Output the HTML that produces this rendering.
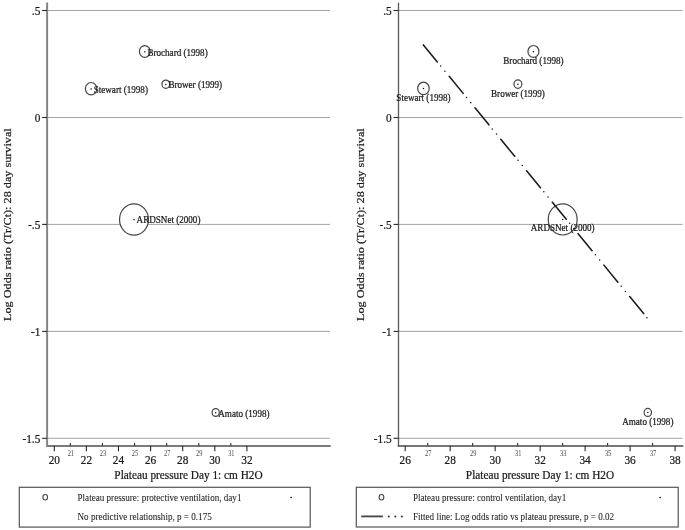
<!DOCTYPE html><html><head><meta charset="utf-8"><style>html,body{margin:0;padding:0;background:#fff;}body{width:685px;height:530px;overflow:hidden;position:relative;}</style></head><body><svg width="685" height="530" viewBox="0 0 685 530" style="position:absolute;left:0;top:0;filter:blur(0px)" font-family='"Liberation Serif", serif'>
<rect width="685" height="530" fill="#fff"/>
<line x1="47.10" y1="10.5" x2="330.00" y2="10.5" stroke="#a4a4a4" stroke-width="1"/>
<line x1="47.10" y1="117.5" x2="330.00" y2="117.5" stroke="#a4a4a4" stroke-width="1"/>
<line x1="47.10" y1="224.4" x2="330.00" y2="224.4" stroke="#a4a4a4" stroke-width="1"/>
<line x1="47.10" y1="331.4" x2="330.00" y2="331.4" stroke="#a4a4a4" stroke-width="1"/>
<line x1="47.10" y1="438.3" x2="330.00" y2="438.3" stroke="#a4a4a4" stroke-width="1"/>
<line x1="47.10" y1="446.0" x2="330.00" y2="446.0" stroke="#7a7a7a" stroke-width="2.0" stroke-linecap="round"/>
<line x1="47.10" y1="3.2" x2="47.10" y2="446.0" stroke="#858585" stroke-width="2.0" stroke-linecap="round"/>
<line x1="42.10" y1="10.50" x2="47.10" y2="10.50" stroke="#2a2a2a" stroke-width="1.1"/>
<text transform="translate(40.30,15.20) scale(0.1,0.1070)" font-size="113.0" text-anchor="end" fill="#1a1a1a" stroke="#1a1a1a" stroke-width="2.2" >.5</text>
<line x1="42.10" y1="117.50" x2="47.10" y2="117.50" stroke="#2a2a2a" stroke-width="1.1"/>
<text transform="translate(40.30,122.20) scale(0.1,0.1070)" font-size="113.0" text-anchor="end" fill="#1a1a1a" stroke="#1a1a1a" stroke-width="2.2" >0</text>
<line x1="42.10" y1="224.40" x2="47.10" y2="224.40" stroke="#2a2a2a" stroke-width="1.1"/>
<text transform="translate(40.30,229.10) scale(0.1,0.1070)" font-size="113.0" text-anchor="end" fill="#1a1a1a" stroke="#1a1a1a" stroke-width="2.2" >-.5</text>
<line x1="42.10" y1="331.40" x2="47.10" y2="331.40" stroke="#2a2a2a" stroke-width="1.1"/>
<text transform="translate(40.30,336.10) scale(0.1,0.1070)" font-size="113.0" text-anchor="end" fill="#1a1a1a" stroke="#1a1a1a" stroke-width="2.2" >-1</text>
<line x1="42.10" y1="438.30" x2="47.10" y2="438.30" stroke="#2a2a2a" stroke-width="1.1"/>
<text transform="translate(40.30,443.00) scale(0.1,0.1070)" font-size="113.0" text-anchor="end" fill="#1a1a1a" stroke="#1a1a1a" stroke-width="2.2" >-1.5</text>
<line x1="54.30" y1="445.8" x2="54.30" y2="451.3" stroke="#2a2a2a" stroke-width="1.1"/>
<text transform="translate(54.30,464.00) scale(0.1,0.1070)" font-size="113.0" text-anchor="middle" fill="#1a1a1a" stroke="#1a1a1a" stroke-width="2.2" >20</text>
<line x1="86.40" y1="445.8" x2="86.40" y2="451.3" stroke="#2a2a2a" stroke-width="1.1"/>
<text transform="translate(86.40,464.00) scale(0.1,0.1070)" font-size="113.0" text-anchor="middle" fill="#1a1a1a" stroke="#1a1a1a" stroke-width="2.2" >22</text>
<line x1="118.50" y1="445.8" x2="118.50" y2="451.3" stroke="#2a2a2a" stroke-width="1.1"/>
<text transform="translate(118.50,464.00) scale(0.1,0.1070)" font-size="113.0" text-anchor="middle" fill="#1a1a1a" stroke="#1a1a1a" stroke-width="2.2" >24</text>
<line x1="150.60" y1="445.8" x2="150.60" y2="451.3" stroke="#2a2a2a" stroke-width="1.1"/>
<text transform="translate(150.60,464.00) scale(0.1,0.1070)" font-size="113.0" text-anchor="middle" fill="#1a1a1a" stroke="#1a1a1a" stroke-width="2.2" >26</text>
<line x1="182.70" y1="445.8" x2="182.70" y2="451.3" stroke="#2a2a2a" stroke-width="1.1"/>
<text transform="translate(182.70,464.00) scale(0.1,0.1070)" font-size="113.0" text-anchor="middle" fill="#1a1a1a" stroke="#1a1a1a" stroke-width="2.2" >28</text>
<line x1="214.80" y1="445.8" x2="214.80" y2="451.3" stroke="#2a2a2a" stroke-width="1.1"/>
<text transform="translate(214.80,464.00) scale(0.1,0.1070)" font-size="113.0" text-anchor="middle" fill="#1a1a1a" stroke="#1a1a1a" stroke-width="2.2" >30</text>
<line x1="246.90" y1="445.8" x2="246.90" y2="451.3" stroke="#2a2a2a" stroke-width="1.1"/>
<text transform="translate(246.90,464.00) scale(0.1,0.1070)" font-size="113.0" text-anchor="middle" fill="#1a1a1a" stroke="#1a1a1a" stroke-width="2.2" >32</text>
<line x1="70.35" y1="443.0" x2="70.35" y2="445.8" stroke="#2a2a2a" stroke-width="1.1"/>
<text transform="translate(70.85,455.50) scale(0.1,0.1160)" font-size="64.0" text-anchor="middle" fill="#444" stroke="#444" stroke-width="0" >21</text>
<line x1="102.45" y1="443.0" x2="102.45" y2="445.8" stroke="#2a2a2a" stroke-width="1.1"/>
<text transform="translate(102.95,455.50) scale(0.1,0.1160)" font-size="64.0" text-anchor="middle" fill="#444" stroke="#444" stroke-width="0" >23</text>
<line x1="134.55" y1="443.0" x2="134.55" y2="445.8" stroke="#2a2a2a" stroke-width="1.1"/>
<text transform="translate(135.05,455.50) scale(0.1,0.1160)" font-size="64.0" text-anchor="middle" fill="#444" stroke="#444" stroke-width="0" >25</text>
<line x1="166.65" y1="443.0" x2="166.65" y2="445.8" stroke="#2a2a2a" stroke-width="1.1"/>
<text transform="translate(167.15,455.50) scale(0.1,0.1160)" font-size="64.0" text-anchor="middle" fill="#444" stroke="#444" stroke-width="0" >27</text>
<line x1="198.75" y1="443.0" x2="198.75" y2="445.8" stroke="#2a2a2a" stroke-width="1.1"/>
<text transform="translate(199.25,455.50) scale(0.1,0.1160)" font-size="64.0" text-anchor="middle" fill="#444" stroke="#444" stroke-width="0" >29</text>
<line x1="230.85" y1="443.0" x2="230.85" y2="445.8" stroke="#2a2a2a" stroke-width="1.1"/>
<text transform="translate(231.35,455.50) scale(0.1,0.1160)" font-size="64.0" text-anchor="middle" fill="#444" stroke="#444" stroke-width="0" >31</text>
<line x1="398.50" y1="10.5" x2="682.60" y2="10.5" stroke="#a4a4a4" stroke-width="1"/>
<line x1="398.50" y1="117.5" x2="682.60" y2="117.5" stroke="#a4a4a4" stroke-width="1"/>
<line x1="398.50" y1="224.4" x2="682.60" y2="224.4" stroke="#a4a4a4" stroke-width="1"/>
<line x1="398.50" y1="331.4" x2="682.60" y2="331.4" stroke="#a4a4a4" stroke-width="1"/>
<line x1="398.50" y1="438.3" x2="682.60" y2="438.3" stroke="#a4a4a4" stroke-width="1"/>
<line x1="398.50" y1="446.0" x2="682.60" y2="446.0" stroke="#777777" stroke-width="2.0" stroke-linecap="round"/>
<line x1="398.50" y1="3.2" x2="398.50" y2="446.0" stroke="#5a5a5a" stroke-width="1.3" stroke-linecap="round"/>
<line x1="393.50" y1="10.50" x2="398.50" y2="10.50" stroke="#2a2a2a" stroke-width="1.1"/>
<text transform="translate(391.70,15.20) scale(0.1,0.1070)" font-size="113.0" text-anchor="end" fill="#1a1a1a" stroke="#1a1a1a" stroke-width="2.2" >.5</text>
<line x1="393.50" y1="117.50" x2="398.50" y2="117.50" stroke="#2a2a2a" stroke-width="1.1"/>
<text transform="translate(391.70,122.20) scale(0.1,0.1070)" font-size="113.0" text-anchor="end" fill="#1a1a1a" stroke="#1a1a1a" stroke-width="2.2" >0</text>
<line x1="393.50" y1="224.40" x2="398.50" y2="224.40" stroke="#2a2a2a" stroke-width="1.1"/>
<text transform="translate(391.70,229.10) scale(0.1,0.1070)" font-size="113.0" text-anchor="end" fill="#1a1a1a" stroke="#1a1a1a" stroke-width="2.2" >-.5</text>
<line x1="393.50" y1="331.40" x2="398.50" y2="331.40" stroke="#2a2a2a" stroke-width="1.1"/>
<text transform="translate(391.70,336.10) scale(0.1,0.1070)" font-size="113.0" text-anchor="end" fill="#1a1a1a" stroke="#1a1a1a" stroke-width="2.2" >-1</text>
<line x1="393.50" y1="438.30" x2="398.50" y2="438.30" stroke="#2a2a2a" stroke-width="1.1"/>
<text transform="translate(391.70,443.00) scale(0.1,0.1070)" font-size="113.0" text-anchor="end" fill="#1a1a1a" stroke="#1a1a1a" stroke-width="2.2" >-1.5</text>
<line x1="405.20" y1="445.8" x2="405.20" y2="451.3" stroke="#2a2a2a" stroke-width="1.1"/>
<text transform="translate(405.20,464.00) scale(0.1,0.1070)" font-size="113.0" text-anchor="middle" fill="#1a1a1a" stroke="#1a1a1a" stroke-width="2.2" >26</text>
<line x1="450.18" y1="445.8" x2="450.18" y2="451.3" stroke="#2a2a2a" stroke-width="1.1"/>
<text transform="translate(450.18,464.00) scale(0.1,0.1070)" font-size="113.0" text-anchor="middle" fill="#1a1a1a" stroke="#1a1a1a" stroke-width="2.2" >28</text>
<line x1="495.16" y1="445.8" x2="495.16" y2="451.3" stroke="#2a2a2a" stroke-width="1.1"/>
<text transform="translate(495.16,464.00) scale(0.1,0.1070)" font-size="113.0" text-anchor="middle" fill="#1a1a1a" stroke="#1a1a1a" stroke-width="2.2" >30</text>
<line x1="540.14" y1="445.8" x2="540.14" y2="451.3" stroke="#2a2a2a" stroke-width="1.1"/>
<text transform="translate(540.14,464.00) scale(0.1,0.1070)" font-size="113.0" text-anchor="middle" fill="#1a1a1a" stroke="#1a1a1a" stroke-width="2.2" >32</text>
<line x1="585.12" y1="445.8" x2="585.12" y2="451.3" stroke="#2a2a2a" stroke-width="1.1"/>
<text transform="translate(585.12,464.00) scale(0.1,0.1070)" font-size="113.0" text-anchor="middle" fill="#1a1a1a" stroke="#1a1a1a" stroke-width="2.2" >34</text>
<line x1="630.10" y1="445.8" x2="630.10" y2="451.3" stroke="#2a2a2a" stroke-width="1.1"/>
<text transform="translate(630.10,464.00) scale(0.1,0.1070)" font-size="113.0" text-anchor="middle" fill="#1a1a1a" stroke="#1a1a1a" stroke-width="2.2" >36</text>
<line x1="675.08" y1="445.8" x2="675.08" y2="451.3" stroke="#2a2a2a" stroke-width="1.1"/>
<text transform="translate(675.08,464.00) scale(0.1,0.1070)" font-size="113.0" text-anchor="middle" fill="#1a1a1a" stroke="#1a1a1a" stroke-width="2.2" >38</text>
<line x1="427.69" y1="443.0" x2="427.69" y2="445.8" stroke="#2a2a2a" stroke-width="1.1"/>
<text transform="translate(428.19,455.50) scale(0.1,0.1160)" font-size="64.0" text-anchor="middle" fill="#444" stroke="#444" stroke-width="0" >27</text>
<line x1="472.67" y1="443.0" x2="472.67" y2="445.8" stroke="#2a2a2a" stroke-width="1.1"/>
<text transform="translate(473.17,455.50) scale(0.1,0.1160)" font-size="64.0" text-anchor="middle" fill="#444" stroke="#444" stroke-width="0" >29</text>
<line x1="517.65" y1="443.0" x2="517.65" y2="445.8" stroke="#2a2a2a" stroke-width="1.1"/>
<text transform="translate(518.15,455.50) scale(0.1,0.1160)" font-size="64.0" text-anchor="middle" fill="#444" stroke="#444" stroke-width="0" >31</text>
<line x1="562.63" y1="443.0" x2="562.63" y2="445.8" stroke="#2a2a2a" stroke-width="1.1"/>
<text transform="translate(563.13,455.50) scale(0.1,0.1160)" font-size="64.0" text-anchor="middle" fill="#444" stroke="#444" stroke-width="0" >33</text>
<line x1="607.61" y1="443.0" x2="607.61" y2="445.8" stroke="#2a2a2a" stroke-width="1.1"/>
<text transform="translate(608.11,455.50) scale(0.1,0.1160)" font-size="64.0" text-anchor="middle" fill="#444" stroke="#444" stroke-width="0" >35</text>
<line x1="652.59" y1="443.0" x2="652.59" y2="445.8" stroke="#2a2a2a" stroke-width="1.1"/>
<text transform="translate(653.09,455.50) scale(0.1,0.1160)" font-size="64.0" text-anchor="middle" fill="#444" stroke="#444" stroke-width="0" >37</text>
<text transform="translate(11.3,224.6) scale(0.1,0.1081) rotate(-90)" font-size="113" text-anchor="middle" fill="#1a1a1a" stroke="#1a1a1a" stroke-width="2.2">Log Odds ratio (Tr/Ct): 28 day survival</text>
<text transform="translate(363.9,224.6) scale(0.1,0.1081) rotate(-90)" font-size="113" text-anchor="middle" fill="#1a1a1a" stroke="#1a1a1a" stroke-width="2.2">Log Odds ratio (Tr/Ct): 28 day survival</text>
<text transform="translate(188.50,478.60) scale(0.1,0.1070)" font-size="113.0" text-anchor="middle" fill="#1a1a1a" stroke="#1a1a1a" stroke-width="2.2" >Plateau pressure Day 1: cm H2O</text>
<text transform="translate(540.00,478.60) scale(0.1,0.1070)" font-size="113.0" text-anchor="middle" fill="#1a1a1a" stroke="#1a1a1a" stroke-width="2.2" >Plateau pressure Day 1: cm H2O</text>
<ellipse cx="91.1" cy="88.7" rx="5.75" ry="6.21" fill="#fff" stroke="#444" stroke-width="1.2"/>
<circle cx="91.1" cy="88.90" r="0.75" fill="#111"/>
<text transform="translate(93.70,93.00) scale(0.1,0.1070)" font-size="91.0" text-anchor="start" fill="#1a1a1a" stroke="#1a1a1a" stroke-width="2.2" >Stewart (1998)</text>
<ellipse cx="144.8" cy="51.5" rx="5.4" ry="5.83" fill="#fff" stroke="#444" stroke-width="1.2"/>
<circle cx="144.8" cy="51.70" r="0.75" fill="#111"/>
<text transform="translate(147.40,56.00) scale(0.1,0.1070)" font-size="91.0" text-anchor="start" fill="#1a1a1a" stroke="#1a1a1a" stroke-width="2.2" >Brochard (1998)</text>
<ellipse cx="165.8" cy="84.2" rx="3.85" ry="4.16" fill="#fff" stroke="#444" stroke-width="1.2"/>
<circle cx="165.8" cy="84.40" r="0.75" fill="#111"/>
<text transform="translate(168.40,88.00) scale(0.1,0.1070)" font-size="91.0" text-anchor="start" fill="#1a1a1a" stroke="#1a1a1a" stroke-width="2.2" >Brower (1999)</text>
<ellipse cx="134.0" cy="219.5" rx="14.45" ry="15.61" fill="#fff" stroke="#444" stroke-width="1.2"/>
<circle cx="134.0" cy="219.70" r="0.75" fill="#111"/>
<text transform="translate(136.60,223.00) scale(0.1,0.1070)" font-size="91.0" text-anchor="start" fill="#1a1a1a" stroke="#1a1a1a" stroke-width="2.2" >ARDSNet (2000)</text>
<ellipse cx="215.7" cy="412.5" rx="3.6" ry="3.89" fill="#fff" stroke="#444" stroke-width="1.2"/>
<circle cx="215.7" cy="412.70" r="0.75" fill="#111"/>
<text transform="translate(218.30,417.00) scale(0.1,0.1070)" font-size="91.0" text-anchor="start" fill="#1a1a1a" stroke="#1a1a1a" stroke-width="2.2" >Amato (1998)</text>
<ellipse cx="423.45" cy="88.4" rx="5.75" ry="6.21" fill="#fff" stroke="#444" stroke-width="1.2"/>
<circle cx="423.45" cy="88.60" r="0.75" fill="#111"/>
<text transform="translate(423.45,100.60) scale(0.1,0.1070)" font-size="91.0" text-anchor="middle" fill="#1a1a1a" stroke="#1a1a1a" stroke-width="2.2" >Stewart (1998)</text>
<ellipse cx="533.45" cy="51.45" rx="5.5" ry="5.94" fill="#fff" stroke="#444" stroke-width="1.2"/>
<circle cx="533.45" cy="51.65" r="0.75" fill="#111"/>
<text transform="translate(533.45,63.60) scale(0.1,0.1070)" font-size="91.0" text-anchor="middle" fill="#1a1a1a" stroke="#1a1a1a" stroke-width="2.2" >Brochard (1998)</text>
<ellipse cx="517.9" cy="84.1" rx="3.95" ry="4.27" fill="#fff" stroke="#444" stroke-width="1.2"/>
<circle cx="517.9" cy="84.30" r="0.75" fill="#111"/>
<text transform="translate(517.90,96.60) scale(0.1,0.1070)" font-size="91.0" text-anchor="middle" fill="#1a1a1a" stroke="#1a1a1a" stroke-width="2.2" >Brower (1999)</text>
<ellipse cx="562.7" cy="219.4" rx="14.45" ry="15.61" fill="#fff" stroke="#444" stroke-width="1.2"/>
<circle cx="562.7" cy="219.60" r="0.75" fill="#111"/>
<text transform="translate(562.70,231.00) scale(0.1,0.1070)" font-size="91.0" text-anchor="middle" fill="#1a1a1a" stroke="#1a1a1a" stroke-width="2.2" >ARDSNet (2000)</text>
<ellipse cx="647.8" cy="412.4" rx="3.7" ry="4.00" fill="#fff" stroke="#444" stroke-width="1.2"/>
<circle cx="647.8" cy="412.60" r="0.75" fill="#111"/>
<text transform="translate(647.80,424.60) scale(0.1,0.1070)" font-size="91.0" text-anchor="middle" fill="#1a1a1a" stroke="#1a1a1a" stroke-width="2.2" >Amato (1998)</text>
<line x1="423.4" y1="44.9" x2="647.10" y2="317.82" stroke="#1a1a1a" stroke-width="1.55" stroke-dasharray="22 5.26 0 6.71 0 6.71" stroke-linecap="round"/>
<rect x="19.3" y="487.3" width="290.9" height="39.8" fill="none" stroke="#555" stroke-width="1.2"/>
<ellipse cx="45.2" cy="497.3" rx="2.35" ry="2.75" fill="none" stroke="#444" stroke-width="1.1"/>
<ellipse cx="291.1" cy="497.4" rx="1.0" ry="0.75" fill="#222"/>
<text transform="translate(77.50,501.40) scale(0.1,0.1050)" font-size="91.0" text-anchor="start" fill="#222" stroke="#222" stroke-width="0.6" >Plateau pressure: protective ventilation, day1</text>
<text transform="translate(77.50,519.90) scale(0.1,0.1050)" font-size="91.0" text-anchor="start" fill="#222" stroke="#222" stroke-width="0.6" >No predictive relationship, p = 0.175</text>
<rect x="356.3" y="487.3" width="321.9" height="39.7" fill="none" stroke="#555" stroke-width="1.2"/>
<ellipse cx="381.5" cy="497.2" rx="2.35" ry="2.75" fill="none" stroke="#444" stroke-width="1.1"/>
<ellipse cx="660.1" cy="497.5" rx="1.0" ry="0.75" fill="#222"/>
<line x1="361.2" y1="516.4" x2="382.9" y2="516.4" stroke="#444" stroke-width="1.8"/>
<circle cx="388.8" cy="516.4" r="1.0" fill="#333"/>
<circle cx="395.3" cy="516.4" r="1.0" fill="#333"/>
<circle cx="401.9" cy="516.4" r="1.0" fill="#333"/>
<text transform="translate(412.90,501.40) scale(0.1,0.1050)" font-size="91.0" text-anchor="start" fill="#222" stroke="#222" stroke-width="0.6" >Plateau pressure: control ventilation, day1</text>
<text transform="translate(412.90,519.90) scale(0.1,0.1050)" font-size="91.0" text-anchor="start" fill="#222" stroke="#222" stroke-width="0.6" >Fitted line: Log odds ratio vs plateau pressure, p = 0.02</text>
</svg></body></html>
